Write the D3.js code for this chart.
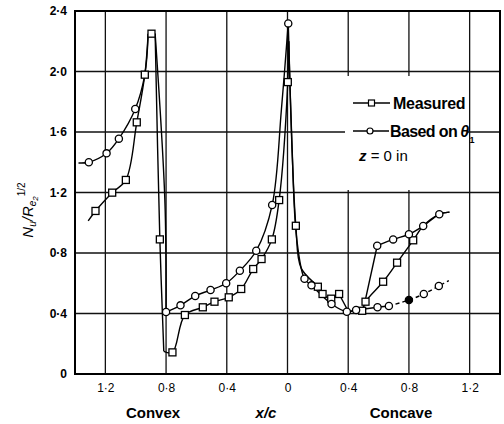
<!DOCTYPE html>
<html>
<head>
<meta charset="utf-8">
<script src="https://cdn.jsdelivr.net/npm/d3@7"></script>
<style>
  body { margin: 0; background: #fff; }
  svg { display: block; font-family: "Liberation Sans", Arial, sans-serif; }
</style>
</head>
<body>
<svg width="504" height="424"></svg>
<script>
// x/c, convex side stored as negative; third value: 1 = marker drawn, 0 = curve only
const measured = [
  [-1.313, 1.012, 0], [-1.265, 1.078, 1], [-1.155, 1.199, 1], [-1.065, 1.283, 1],
  [-0.993, 1.664, 1], [-0.94, 1.979, 1], [-0.918, 2.25, 0], [-0.896, 2.25, 1],
  [-0.872, 2.25, 0], [-0.841, 0.89, 1], [-0.815, 0.15, 0], [-0.758, 0.143, 1],
  [-0.676, 0.39, 1], [-0.558, 0.441, 1], [-0.481, 0.478, 1], [-0.387, 0.507, 1],
  [-0.305, 0.562, 1], [-0.226, 0.694, 1], [-0.171, 0.76, 1], [-0.103, 0.89, 1],
  [-0.055, 1.15, 1], [0.002, 1.93, 1], [0.008, 2.2, 0], [0.055, 0.98, 1],
  [0.09, 0.7, 0], [0.2, 0.577, 1], [0.231, 0.529, 1], [0.288, 0.498, 1],
  [0.34, 0.529, 1], [0.4, 0.415, 0], [0.492, 0.418, 1], [0.514, 0.478, 1],
  [0.63, 0.61, 1], [0.722, 0.736, 1], [0.828, 0.884, 1], [0.894, 0.979, 0],
  [1.0, 1.056, 0], [1.067, 1.07, 0]
]
const measuredCorners = [-0.918, -0.872, -0.815, 0.008, 0.34, 0.4, 0.492]

const basedOnTheta = [
  [-1.377, 1.395, 0], [-1.309, 1.40, 1], [-1.192, 1.459, 1], [-1.111, 1.556, 1],
  [-1.003, 1.752, 1], [-0.94, 1.979, 0], [-0.918, 2.25, 0], [-0.872, 2.25, 0],
  [-0.808, 1.15, 0], [-0.80, 0.41, 1], [-0.705, 0.454, 1], [-0.608, 0.516, 1],
  [-0.507, 0.555, 1], [-0.404, 0.60, 1], [-0.314, 0.683, 1], [-0.206, 0.815, 1],
  [-0.101, 1.117, 1], [-0.04, 1.75, 0], [0.005, 2.318, 1], [0.03, 1.5, 0],
  [0.06, 0.9, 0], [0.112, 0.63, 1], [0.158, 0.586, 1], [0.29, 0.463, 1],
  [0.391, 0.412, 1], [0.452, 0.423, 1], [0.5, 0.43, 0], [0.591, 0.848, 1],
  [0.696, 0.89, 1], [0.80, 0.924, 1], [0.894, 0.979, 1], [1.0, 1.056, 1],
  [1.067, 1.07, 0]
]
const thetaCorners = [-0.918, -0.872, -0.80, 0.005, 0.5, 0.591]

// lower concave branch; 2 = filled marker
const thetaLowSolid = [[0.452, 0.423, 0], [0.593, 0.441, 1], [0.668, 0.45, 1]]
const thetaLowDashed = [[0.668, 0.45, 0], [0.80, 0.489, 2], [0.898, 0.529, 1], [0.997, 0.582, 1], [1.063, 0.617, 0]]

const xTicks = [-1.2, -0.8, -0.4, 0, 0.4, 0.8, 1.2]
const yTicks = [0, 0.4, 0.8, 1.2, 1.6, 2.0, 2.4]

const svg = d3.select("svg")
const pLeft = 75, pRight = 500, pTop = 11, pBottom = 374

const x = d3.scaleLinear().domain([-1.4, 1.4]).range([pLeft, pRight])
const y = d3.scaleLinear().domain([0, 2.4]).range([pBottom, pTop])

const fmt = v => v == 0 ? "0" : Math.abs(v).toFixed(1).replace(".", "\u00b7")

// grid
const grid = svg.append("g").attr("stroke", "#111").attr("stroke-width", 1.3)
grid.selectAll(".gx").data(xTicks).join("line")
  .attr("x1", d => x(d)).attr("x2", d => x(d)).attr("y1", pTop).attr("y2", pBottom)
grid.selectAll(".gy").data(yTicks.slice(1, -1)).join("line")
  .attr("y1", d => y(d)).attr("y2", d => y(d)).attr("x1", pLeft).attr("x2", pRight)

// legend background hides the grid
svg.append("rect").attr("x", 345).attr("y", 76).attr("width", 122).attr("height", 114).attr("fill", "#fff")

// frame
svg.append("rect").attr("x", pLeft).attr("y", pTop).attr("width", pRight - pLeft).attr("height", pBottom - pTop)
  .attr("fill", "none").attr("stroke", "#000").attr("stroke-width", 2)

// axes (labels only)
const xAxis = svg.append("g").attr("transform", `translate(0,${pBottom})`)
  .call(d3.axisBottom(x).tickValues(xTicks).tickFormat(fmt).tickSize(0).tickPadding(9))
const yAxis = svg.append("g").attr("transform", `translate(${pLeft},0)`)
  .call(d3.axisLeft(y).tickValues(yTicks).tickFormat(fmt).tickSize(0).tickPadding(8))
svg.selectAll(".domain").remove()
svg.selectAll(".tick text").attr("font-size", 12).attr("fill", "#000")
  .attr("font-family", "Liberation Sans, Arial, sans-serif")
yAxis.selectAll(".tick text").attr("font-weight", "bold")

// curves: smooth between corner points, sharp at the corners
const line = d3.line().x(d => x(d[0])).y(d => y(d[1])).curve(d3.curveCatmullRom.alpha(0.5))
function pieces(data, corners) {
  const out = []
  let cur = []
  data.forEach(d => {
    cur.push(d)
    if (corners.includes(d[0])) { out.push(cur); cur = [d] }
  })
  if (cur.length > 1) out.push(cur)
  return out
}
const curves = svg.append("g").attr("fill", "none").attr("stroke", "#000").attr("stroke-width", 1.4)
  .attr("stroke-linejoin", "round")
pieces(measured, measuredCorners).concat(pieces(basedOnTheta, thetaCorners), [thetaLowSolid])
  .forEach(p => curves.append("path").attr("d", line(p)))
curves.append("path").attr("d", line(thetaLowDashed)).attr("stroke-dasharray", "4,3")

// markers
const marks = svg.append("g").attr("stroke", "#000").attr("stroke-width", 1.3)
marks.selectAll("rect").data(measured.filter(d => d[2])).join("rect")
  .attr("x", d => x(d[0]) - 3.5).attr("y", d => y(d[1]) - 3.5)
  .attr("width", 7).attr("height", 7).attr("fill", "#fff")
const circ = basedOnTheta.concat(thetaLowSolid, thetaLowDashed).filter(d => d[2])
marks.selectAll("circle").data(circ).join("circle")
  .attr("cx", d => x(d[0])).attr("cy", d => y(d[1])).attr("r", 3.6)
  .attr("fill", d => d[2] == 2 ? "#000" : "#fff")

// legend
const lg = svg.append("g").attr("font-size", 16).attr("font-weight", "bold")
lg.append("line").attr("x1", 353).attr("x2", 390).attr("y1", 103).attr("y2", 103)
  .attr("stroke", "#000").attr("stroke-width", 1.4)
lg.append("rect").attr("x", 368.5).attr("y", 100).attr("width", 6).attr("height", 6)
  .attr("fill", "#fff").attr("stroke", "#000").attr("stroke-width", 1.2)
lg.append("text").attr("x", 393).attr("y", 108.5).attr("letter-spacing", -0.3).text("Measured")
lg.append("line").attr("x1", 353).attr("x2", 389).attr("y1", 131).attr("y2", 131)
  .attr("stroke", "#000").attr("stroke-width", 1.4)
lg.append("circle").attr("cx", 370).attr("cy", 131).attr("r", 3)
  .attr("fill", "#fff").attr("stroke", "#000").attr("stroke-width", 1.2)
const t2 = lg.append("text").attr("x", 390).attr("y", 137).attr("letter-spacing", -0.6)
t2.append("tspan").text("Based on")
t2.append("tspan").attr("font-style", "italic").attr("dx", 3).text("\u03b8")
t2.append("tspan").attr("font-size", 9).attr("dy", 6).attr("dx", 1).text("1")
const t3 = lg.append("text").attr("x", 359).attr("y", 161).attr("font-weight", "normal").attr("font-size", 15)
t3.append("tspan").attr("font-style", "italic").attr("font-weight", "bold").text("z")
t3.append("tspan").text(" = 0 in")

// axis titles
const bt = svg.append("g").attr("font-size", 15).attr("font-weight", "bold").attr("text-anchor", "middle")
bt.append("text").attr("x", 153).attr("y", 418).text("Convex")
bt.append("text").attr("x", 266).attr("y", 418).attr("font-style", "italic").text("x/c")
bt.append("text").attr("x", 401).attr("y", 418).text("Concave")

const yl = svg.append("text").attr("transform", "translate(33,210) rotate(-90)")
  .attr("text-anchor", "middle").attr("font-size", 15).attr("font-style", "italic")
yl.append("tspan").text("N")
yl.append("tspan").attr("font-size", 10).attr("dy", 3).text("u")
yl.append("tspan").attr("dy", -3).text("/R")
yl.append("tspan").attr("font-size", 10).attr("dy", 3).text("e")
yl.append("tspan").attr("font-size", 8).attr("dy", 2).text("2")
yl.append("tspan").attr("font-size", 10).attr("font-style", "normal").attr("dy", -13).text("1/2")
</script>
</body>
</html>
